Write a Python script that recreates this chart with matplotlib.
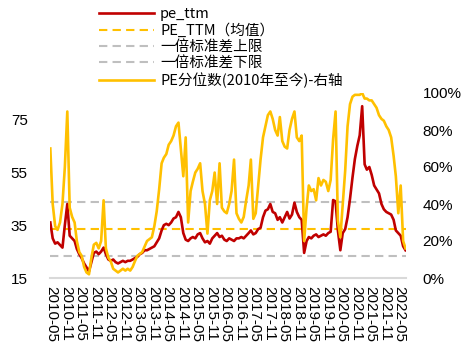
import matplotlib
matplotlib.use("Agg")
import matplotlib.pyplot as plt
import pandas as pd
import numpy as np

plt.rcParams['font.family'] = ['Liberation Sans', 'Noto Sans CJK SC', 'DejaVu Sans']

start_date = "2010-04-20"
pe_ttm = [36, 30, 28, 28.5, 27.5, 26.5, 35, 43, 31, 30,
          29, 26, 24, 22.5, 20.5, 19, 17.5, 21, 24.5, 25,
          24, 25, 26.5, 24, 22, 21.5, 22, 21, 20.5, 21,
          21.5, 21, 21.5, 21.5, 22, 22.5, 23, 24, 24.5, 25.5,
          25.5, 26, 26.5, 27, 28.5, 30, 33, 35, 35.5, 35,
          36, 37.5, 38, 40, 38, 32, 29.5, 29, 30, 30.5,
          30, 31.5, 32, 30, 28.5, 29, 28, 30, 31, 32,
          30.5, 31, 29.5, 29, 30, 29.5, 29, 30, 30, 30.5,
          30, 31, 32, 33, 31.5, 32, 33.5, 34, 38, 40.5,
          41, 43, 40, 39.5, 37, 38, 36, 38, 40, 37.5,
          39, 43.5, 40, 38, 37, 24.5, 29, 30.5, 30, 31,
          31.5, 30.5, 31, 31.5, 31, 32, 32.5, 44.5, 44, 33,
          25.5, 32, 33.5, 38, 45, 53, 60, 65, 69, 80,
          58, 56, 57, 54, 50, 48.5, 47, 43, 41, 40,
          39.5, 39, 37, 33, 32, 31, 27, 25.5]
pe_pct = [70, 40, 28, 26, 30, 40, 60, 90, 38, 33,
          30, 20, 14, 12, 6, 3, 2, 11, 18, 19,
          16, 20, 42, 16, 11, 9, 5, 4, 3, 4,
          5, 4, 5, 4, 6, 9, 12, 13, 14, 17,
          20, 21, 22, 28, 36, 48, 62, 65, 67, 72,
          74, 77, 82, 84, 70, 55, 76, 30, 47, 52,
          57, 59, 62, 47, 40, 24, 42, 47, 57, 40,
          62, 38, 36, 35, 40, 47, 64, 35, 32, 30,
          33, 42, 50, 64, 32, 35, 50, 64, 76, 82,
          88, 90, 86, 80, 77, 87, 74, 71, 70, 80,
          86, 90, 76, 74, 77, 20, 38, 50, 47, 48,
          42, 54, 50, 53, 52, 47, 53, 75, 90, 31,
          22, 40, 58, 82, 94, 98, 99, 99, 99, 100,
          97, 97, 96, 96, 94, 92, 88, 86, 85, 82,
          80, 76, 66, 55, 35, 50, 20, 16]
pe_mean = 33.5
pe_upper = 43.6
pe_lower = 23.5
tick_labels = ["2010-05", "2010-11", "2011-05", "2011-11", "2012-05", "2012-11",
               "2013-05", "2013-11", "2014-05", "2014-11", "2015-05", "2015-11",
               "2016-05", "2016-11", "2017-05", "2017-11", "2018-05", "2018-11",
               "2019-05", "2019-11", "2020-05", "2020-11", "2021-05", "2021-11",
               "2022-05"]
legend_labels = ["pe_ttm", "PE_TTM（均值）", "一倍标准差上限", "一倍标准差下限",
                 "PE分位数(2010年至今)-右轴"]

dates = pd.date_range(start_date, periods=len(pe_ttm), freq=pd.DateOffset(months=1))

fig = plt.figure(figsize=(4.67, 3.5), dpi=100)
ax = fig.add_axes([50/467, 72/350, 356/467, 185/350])
ax2 = ax.twinx()

red = "#C00000"
orange = "#FFC000"
gray = "#BFBFBF"

l1, = ax.plot(dates, pe_ttm, color=red, lw=1.9, zorder=3)
l2 = ax.axhline(pe_mean, color=orange, lw=1.5, ls=(0, (4, 2.5)), zorder=2)
l3 = ax.axhline(pe_upper, color=gray, lw=1.5, ls=(0, (4, 2.5)), zorder=2)
l4 = ax.axhline(pe_lower, color=gray, lw=1.5, ls=(0, (4, 2.5)), zorder=2)
l5, = ax2.plot(dates, np.array(pe_pct) / 100.0, color=orange, lw=1.9, zorder=4)

ax.set_ylim(15, 85)
ax.set_yticks([15, 35, 55, 75])
ax2.set_ylim(0, 1.0)
ax2.set_yticks([0, 0.2, 0.4, 0.6, 0.8, 1.0])
ax2.set_yticklabels(["0%", "20%", "40%", "60%", "80%", "100%"])

ax.set_xlim(pd.Timestamp("2010-04-16"), pd.Timestamp("2022-07-26"))
ticks = [pd.Timestamp(t + "-01") for t in tick_labels]
ax.set_xticks(ticks)
ax.set_xticklabels(tick_labels, rotation=270, fontsize=11)

for a in (ax, ax2):
    for s in a.spines.values():
        s.set_visible(False)
ax.spines['bottom'].set_visible(True)
ax.spines['bottom'].set_color("#D9D9D9")
ax.spines['bottom'].set_linewidth(1.5)
ax.tick_params(axis='x', length=0, pad=6, colors="#000000")
ax.tick_params(axis='y', length=0, pad=16, labelsize=11)
ax2.tick_params(axis='y', length=0, pad=12, labelsize=11)

ax2.set_zorder(ax.get_zorder() + 1)
ax2.patch.set_visible(False)

fig.legend([l1, l2, l3, l4, l5], legend_labels, loc='upper left',
           bbox_to_anchor=(90/467, 1.005), frameon=False,
           handlelength=3.8, labelspacing=0.15, handletextpad=0.4,
           borderaxespad=0.2, prop={'family': ['Noto Sans CJK SC', 'DejaVu Sans'], 'size': 10.5})

fig.savefig("out.png", dpi=100)
